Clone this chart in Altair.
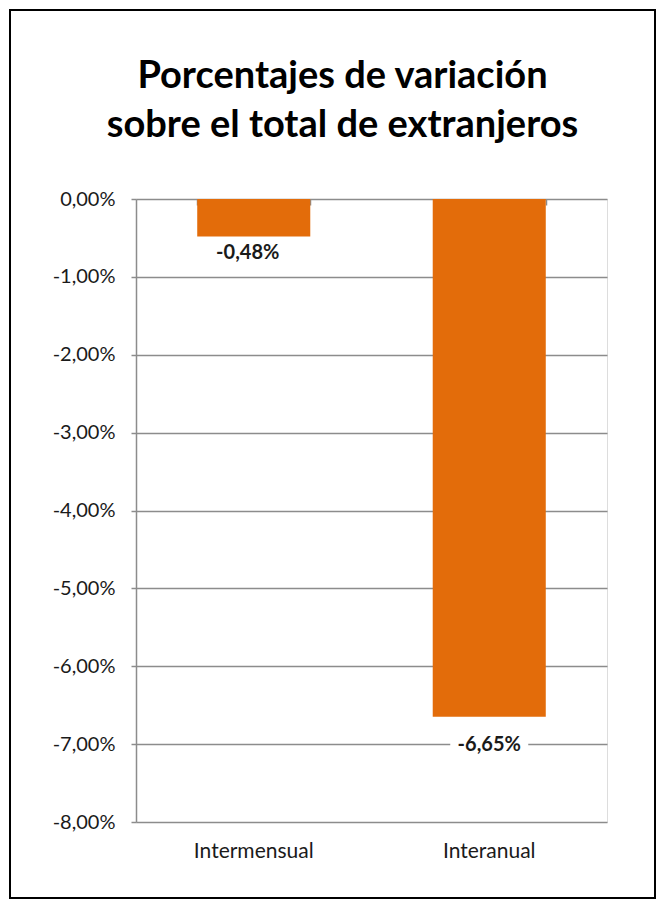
import altair as alt
import pandas as pd

categories = ["Intermensual", "Interanual"]
values = [-0.48, -6.65]
labels = ["-0,48%", "-6,65%"]
y_ticks = [0, -1, -2, -3, -4, -5, -6, -7, -8]

df = pd.DataFrame({"cat": categories, "val": values, "label": labels})

W, H = 471, 623
FONT = "Lato"
GRID = "#8c8c8c"
ORANGE = "#E36C0A"

base = alt.Chart(df)

x_enc = alt.X(
    "cat:N",
    sort=categories,
    scale=alt.Scale(paddingInner=0.52, paddingOuter=0.26),
    axis=alt.Axis(
        orient="top", title=None, labels=False, domain=False, ticks=True,
        tickBand="extent", tickSize=6, offset=-6, tickColor=GRID, tickWidth=1.5, grid=False,
    ),
)

y_enc = alt.Y(
    "val:Q",
    scale=alt.Scale(domain=[-8, 0], nice=False, zero=False),
    axis=alt.Axis(
        values=y_ticks,
        title=None,
        labelExpr="(datum.value < 0 ? '-' : '') + replace(format(abs(datum.value), '.2f'), '.', ',') + '%'",
        grid=True, gridColor=GRID, gridWidth=1.5,
        domainColor=GRID, domainWidth=1.5,
        tickColor=GRID, tickSize=5, tickWidth=1.5,
        labelFont=FONT, labelFontSize=20, labelColor="#1a1a1a", labelPadding=16,
    ),
)

border = base.mark_rect(fillOpacity=0, stroke="black", strokeWidth=2).encode(
    x=alt.value(-126), x2=alt.value(519), y=alt.value(-189), y2=alt.value(699)
)

bars = base.mark_bar(color=ORANGE).encode(x=x_enc, y=y_enc)

white_box = base.transform_filter(alt.datum.cat == "Interanual").mark_tick(
    color="white", opacity=1, thickness=24, size=78, yOffset=28
).encode(x=alt.X("cat:N", sort=categories), y="val:Q")

lab1 = base.transform_filter(alt.datum.cat == "Intermensual").mark_text(
    font=FONT, fontSize=20, fontWeight="bold", color="#1a1a1a", dy=17, dx=-6, baseline="middle"
).encode(x=alt.X("cat:N", sort=categories), y="val:Q", text="label:N")

lab2 = base.transform_filter(alt.datum.cat == "Interanual").mark_text(
    font=FONT, fontSize=20, fontWeight="bold", color="#1a1a1a", dy=28, baseline="middle"
).encode(x=alt.X("cat:N", sort=categories), y="val:Q", text="label:N")

cat_labels = base.mark_text(
    font=FONT, fontSize=21, color="#1a1a1a", baseline="middle", dy=30
).encode(x=alt.X("cat:N", sort=categories), y=alt.value(H), text="cat:N")

chart = alt.layer(border, bars, white_box, lab1, lab2, cat_labels).properties(
    width=W,
    height=H,
    autosize="none",
    padding={"left": 128, "top": 191, "right": 50, "bottom": 86},
    title=alt.TitleParams(
        ["Porcentajes de variación", "sobre el total de extranjeros"],
        font=FONT, fontSize=38, fontWeight="bold", color="black",
        anchor="middle", dx=-29, offset=-136, lineHeight=49,
    ),
).configure_view(stroke=None).configure(background="white")

chart.save("out.html", embed_options={"renderer": "svg", "actions": False})
